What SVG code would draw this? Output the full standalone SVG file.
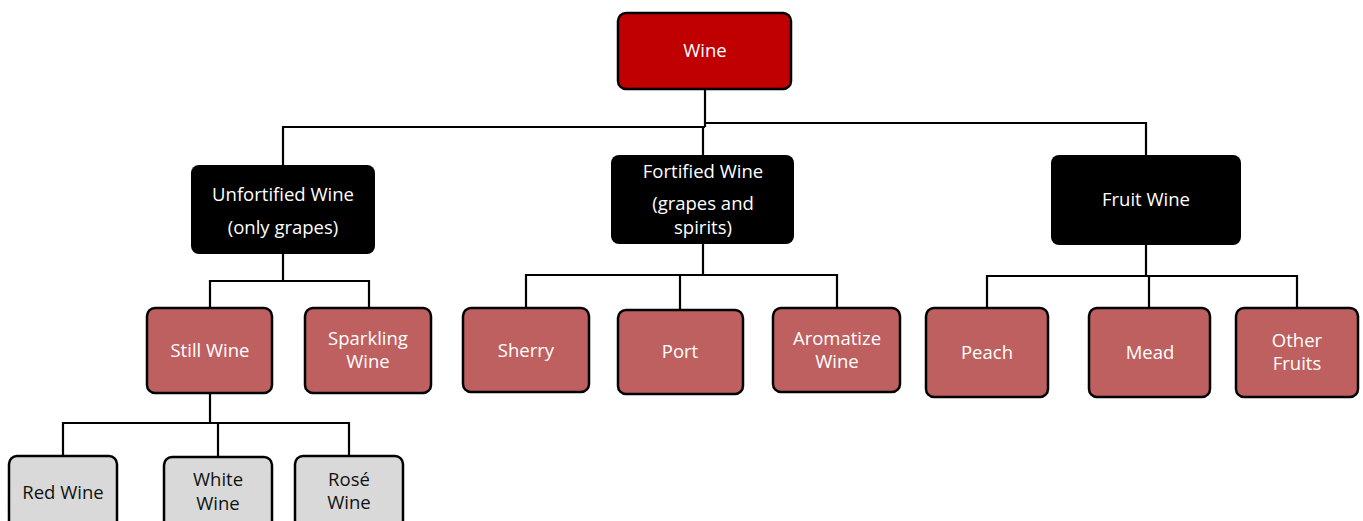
<svg xmlns="http://www.w3.org/2000/svg" width="1363" height="521" viewBox="0 0 1363 521">
<style>
.c{fill:none;stroke:#000;stroke-width:2.2}
.root{fill:#C00000;stroke:#000;stroke-width:2.5}
.blk{fill:#000}
.pk{fill:#BF6060;stroke:#000;stroke-width:2.5}
.gr{fill:#D9D9D9;stroke:#000;stroke-width:2.5}
text{font-family:"Open Sans","Noto Sans",sans-serif;font-size:18.5px;text-anchor:middle}
.w{fill:#fff}
.d{fill:#111}
</style>
<rect width="1363" height="521" fill="#fff"/>
<g id="connectors">
<polyline class="c" points="705,89 705,127"/>
<polyline class="c" points="705,127 283,127 283,165"/>
<polyline class="c" points="705,123 1146,123 1146,155"/>
<polyline class="c" points="703,127 703,155"/>
<polyline class="c" points="283,254 283,281"/>
<polyline class="c" points="210,308 210,281 369,281 369,308"/>
<polyline class="c" points="703,244 703,275"/>
<polyline class="c" points="526,308 526,275 837,275 837,308"/>
<polyline class="c" points="680,275 680,310"/>
<polyline class="c" points="1146,245 1146,276"/>
<polyline class="c" points="987,308 987,276 1297,276 1297,308"/>
<polyline class="c" points="1149,276 1149,308"/>
<polyline class="c" points="210,393 210,423"/>
<polyline class="c" points="63,456 63,423 349,423 349,456"/>
<polyline class="c" points="218,423 218,457"/>
</g>
<g id="wine"><rect class="root" x="618" y="13" width="173" height="76" rx="8"/><text class="w" x="705" y="57">Wine</text></g>
<g id="unfortified"><rect class="blk" x="191" y="165" width="184" height="89" rx="8"/><text class="w" x="283" y="201">Unfortified Wine</text><text class="w" x="283" y="234">(only grapes)</text></g>
<g id="fortified"><rect class="blk" x="611" y="155" width="183" height="89" rx="8"/><text class="w" x="703" y="178">Fortified Wine</text><text class="w" x="703" y="210">(grapes and</text><text class="w" x="703" y="234">spirits)</text></g>
<g id="fruit"><rect class="blk" x="1051" y="155" width="190" height="90" rx="8"/><text class="w" x="1146" y="206">Fruit Wine</text></g>
<g id="still"><rect class="pk" x="147" y="308" width="125" height="85" rx="8"/><text class="w" x="210" y="357">Still Wine</text></g>
<g id="sparkling"><rect class="pk" x="305" y="308" width="126" height="85" rx="8"/><text class="w" x="368" y="345">Sparkling</text><text class="w" x="368" y="368">Wine</text></g>
<g id="sherry"><rect class="pk" x="463" y="308" width="126" height="84" rx="8"/><text class="w" x="526" y="357">Sherry</text></g>
<g id="port"><rect class="pk" x="618" y="310" width="125" height="84" rx="8"/><text class="w" x="680" y="358">Port</text></g>
<g id="aromatize"><rect class="pk" x="773" y="308" width="127" height="84" rx="8"/><text class="w" x="837" y="345">Aromatize</text><text class="w" x="837" y="368">Wine</text></g>
<g id="peach"><rect class="pk" x="926" y="308" width="122" height="89" rx="8"/><text class="w" x="987" y="359">Peach</text></g>
<g id="mead"><rect class="pk" x="1089" y="308" width="121" height="89" rx="8"/><text class="w" x="1150" y="359">Mead</text></g>
<g id="other"><rect class="pk" x="1236" y="308" width="122" height="89" rx="8"/><text class="w" x="1297" y="347">Other</text><text class="w" x="1297" y="370">Fruits</text></g>
<g id="red"><rect class="gr" x="9" y="456" width="108" height="80" rx="8"/><text class="d" x="63" y="499">Red Wine</text></g>
<g id="white"><rect class="gr" x="164" y="457" width="108" height="80" rx="8"/><text class="d" x="218" y="486">White</text><text class="d" x="218" y="510">Wine</text></g>
<g id="rose"><rect class="gr" x="295" y="456" width="108" height="80" rx="8"/><text class="d" x="349" y="486">Rosé</text><text class="d" x="349" y="509">Wine</text></g>
</svg>
